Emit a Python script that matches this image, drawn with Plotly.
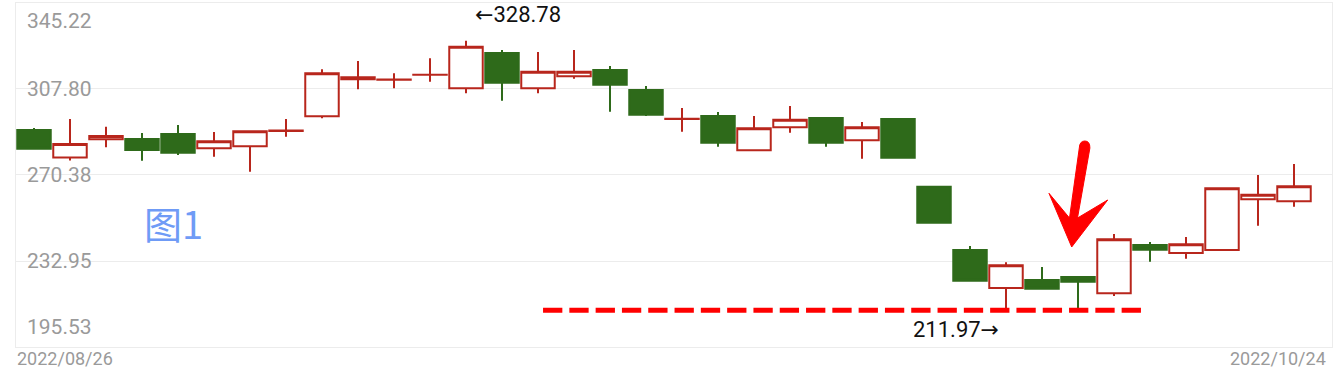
import plotly.graph_objects as go

# ---------------- data ----------------
dates = ["2022/08/26", "2022/08/29", "2022/08/30", "2022/08/31", "2022/09/01", "2022/09/02",
         "2022/09/05", "2022/09/06", "2022/09/07", "2022/09/08", "2022/09/09", "2022/09/13",
         "2022/09/14", "2022/09/15", "2022/09/16", "2022/09/19", "2022/09/20", "2022/09/21",
         "2022/09/22", "2022/09/23", "2022/09/26", "2022/09/27", "2022/09/28", "2022/09/29",
         "2022/09/30", "2022/10/10", "2022/10/11", "2022/10/12", "2022/10/13", "2022/10/14",
         "2022/10/17", "2022/10/18", "2022/10/19", "2022/10/20", "2022/10/21", "2022/10/24"]
opens = [289.96, 277.99, 285.91, 286.04, 288.22, 281.99, 282.86, 289.50, 295.92, 312.02, 311.80, 313.95,
         308.10, 323.46, 308.10, 313.32, 316.07, 307.36, 294.70, 296.05, 281.12, 291.13, 295.18, 285.47,
         294.74, 265.28, 237.74, 221.21, 224.69, 225.99, 218.90, 239.92, 236.43, 237.74, 259.80, 258.93]
highs = [290.83, 294.74, 291.39, 288.65, 292.13, 289.09, 289.39, 294.74, 316.37, 319.98, 314.63, 321.16,
         328.78, 324.77, 323.90, 324.77, 317.81, 309.10, 299.53, 297.79, 296.05, 300.40, 295.18, 293.44,
         294.74, 265.28, 239.48, 232.39, 230.34, 225.99, 244.70, 241.22, 243.40, 264.59, 270.38, 275.16]
lows = [281.82, 276.69, 282.43, 276.60, 279.08, 278.34, 271.81, 287.04, 295.05, 307.67, 308.10, 310.97,
        305.93, 302.71, 305.93, 312.28, 297.92, 296.05, 289.22, 282.69, 281.12, 288.78, 282.69, 277.47,
        277.90, 249.62, 224.38, 212.50, 220.60, 211.97, 217.72, 232.65, 233.95, 237.74, 248.31, 256.58]
closes = [281.82, 283.87, 287.35, 281.25, 280.08, 285.04, 289.39, 289.70, 314.63, 312.89, 311.90, 314.05,
          326.20, 310.54, 315.33, 315.33, 309.67, 296.61, 294.80, 284.43, 290.70, 294.44, 284.43, 291.13,
          277.90, 249.62, 224.38, 231.08, 220.90, 223.95, 242.40, 237.87, 240.22, 264.59, 261.80, 265.46]
y_ticks = [195.53, 232.95, 270.38, 307.80, 345.22]

RED = "#b8261c"
GREEN = "#2e6a1a"
GRID = "#ececec"
LABEL = "#9a9a9a"

# ---------------- figure ----------------
W, H = 1334, 382
ML, MR, MT, MB = 16, 2, 3, 35
PW, PH = W - ML - MR, H - MT - MB

fig = go.Figure(go.Candlestick(
    x=dates, open=opens, high=highs, low=lows, close=closes,
    increasing=dict(line=dict(color=RED, width=2), fillcolor="rgba(255,255,255,0)"),
    decreasing=dict(line=dict(color=GREEN, width=2), fillcolor=GREEN),
    whiskerwidth=0, showlegend=False, hoverinfo="skip",
))

x_max = -0.5 + PW / 36.0

fig.update_layout(
    width=W, height=H,
    margin=dict(l=ML, r=MR, t=MT, b=MB, pad=0),
    paper_bgcolor="white", plot_bgcolor="white",
    boxgap=0.07, boxgroupgap=0,
    xaxis=dict(type="category", range=[-0.5, x_max], showgrid=False, showticklabels=False,
               ticks="", showline=True, linecolor=GRID, linewidth=1, mirror=True,
               rangeslider=dict(visible=False), zeroline=False, fixedrange=True),
    yaxis=dict(range=[y_ticks[0], y_ticks[-1]], tickvals=y_ticks, showticklabels=False,
               showgrid=True, gridcolor=GRID, gridwidth=1, ticks="", zeroline=False,
               showline=True, linecolor=GRID, linewidth=1, mirror=True, fixedrange=True),
    font=dict(family="Roboto, 'Noto Sans', sans-serif"),
)

ann = []
# y tick labels drawn inside the plot
for i, v in enumerate(y_ticks):
    shift = 0
    if i == 0:
        shift = 20
    elif i == len(y_ticks) - 1:
        shift = -18
    ann.append(dict(x=0, xref="paper", xanchor="left", xshift=9, y=v, yref="y", yanchor="middle",
                    yshift=shift, text=f"{v:.2f}", showarrow=False,
                    font=dict(family="Roboto", size=21, color=LABEL)))
# x labels (first and last date)
ann.append(dict(x=0, xref="paper", xanchor="left", xshift=-1, y=0, yref="paper", yanchor="middle",
                yshift=-11, text=dates[0], showarrow=False, font=dict(family="Roboto", size=18, color=LABEL)))
ann.append(dict(x=1, xref="paper", xanchor="right", xshift=-4, y=0, yref="paper", yanchor="middle",
                yshift=-11, text=dates[-1], showarrow=False, font=dict(family="Roboto", size=18, color=LABEL)))

# max / min markers
i_max = highs.index(max(highs))
i_min = lows.index(min(lows))
ann.append(dict(x=dates[i_max], y=highs[i_max], xref="x", yref="y", xanchor="left", yanchor="middle",
                xshift=7, yshift=26, text=f"←{highs[i_max]:.2f}", showarrow=False,
                font=dict(family="Roboto, 'DejaVu Sans'", size=22, color="#111111")))
ann.append(dict(x=dates[i_min], y=lows[i_min], xref="x", yref="y", xanchor="right", yanchor="middle",
                xshift=-77, yshift=-20, text=f"{lows[i_min]:.2f}→", showarrow=False,
                font=dict(family="Roboto, 'DejaVu Sans'", size=22, color="#111111")))

# figure label
def px2paper(x, y):
    return (x - ML) / PW, (MT + PH - y) / PH

lx, ly = px2paper(173, 222)
ann.append(dict(x=lx, y=ly, xref="paper", yref="paper", xanchor="center", yanchor="middle",
                text="图1", showarrow=False,
                font=dict(family="Noto Sans CJK SC", size=38, color="#6f9bf6")))
fig.update_layout(annotations=ann)

# dashed support line at the minimum low
fig.add_shape(type="line", xref="x", yref="y", x0=14.14, x1=30.75, y0=min(lows) - 0.4, y1=min(lows) - 0.4,
              line=dict(color="#ff0000", width=5, dash="19.3px,7px"))

# hand drawn red arrow
pts = [("M", (1079.3, 148)), ("Q", (1079.6, 141), (1084.8, 141)), ("Q", (1090, 141), (1089.9, 148)),
       ("L", (1077.5, 218)), ("L", (1107.7, 200)), ("L", (1071.7, 247)), ("L", (1049, 193.3)),
       ("L", (1069.5, 218))]
path = ""
for cmd, *pp in pts:
    path += cmd + " " + " ".join("%.5f,%.5f" % px2paper(*p) for p in pp) + " "
path += "Z"
fig.add_shape(type="path", xref="paper", yref="paper", path=path,
              fillcolor="#ff0000", line=dict(color="#ff0000", width=1))

fig.write_html("out.html")
